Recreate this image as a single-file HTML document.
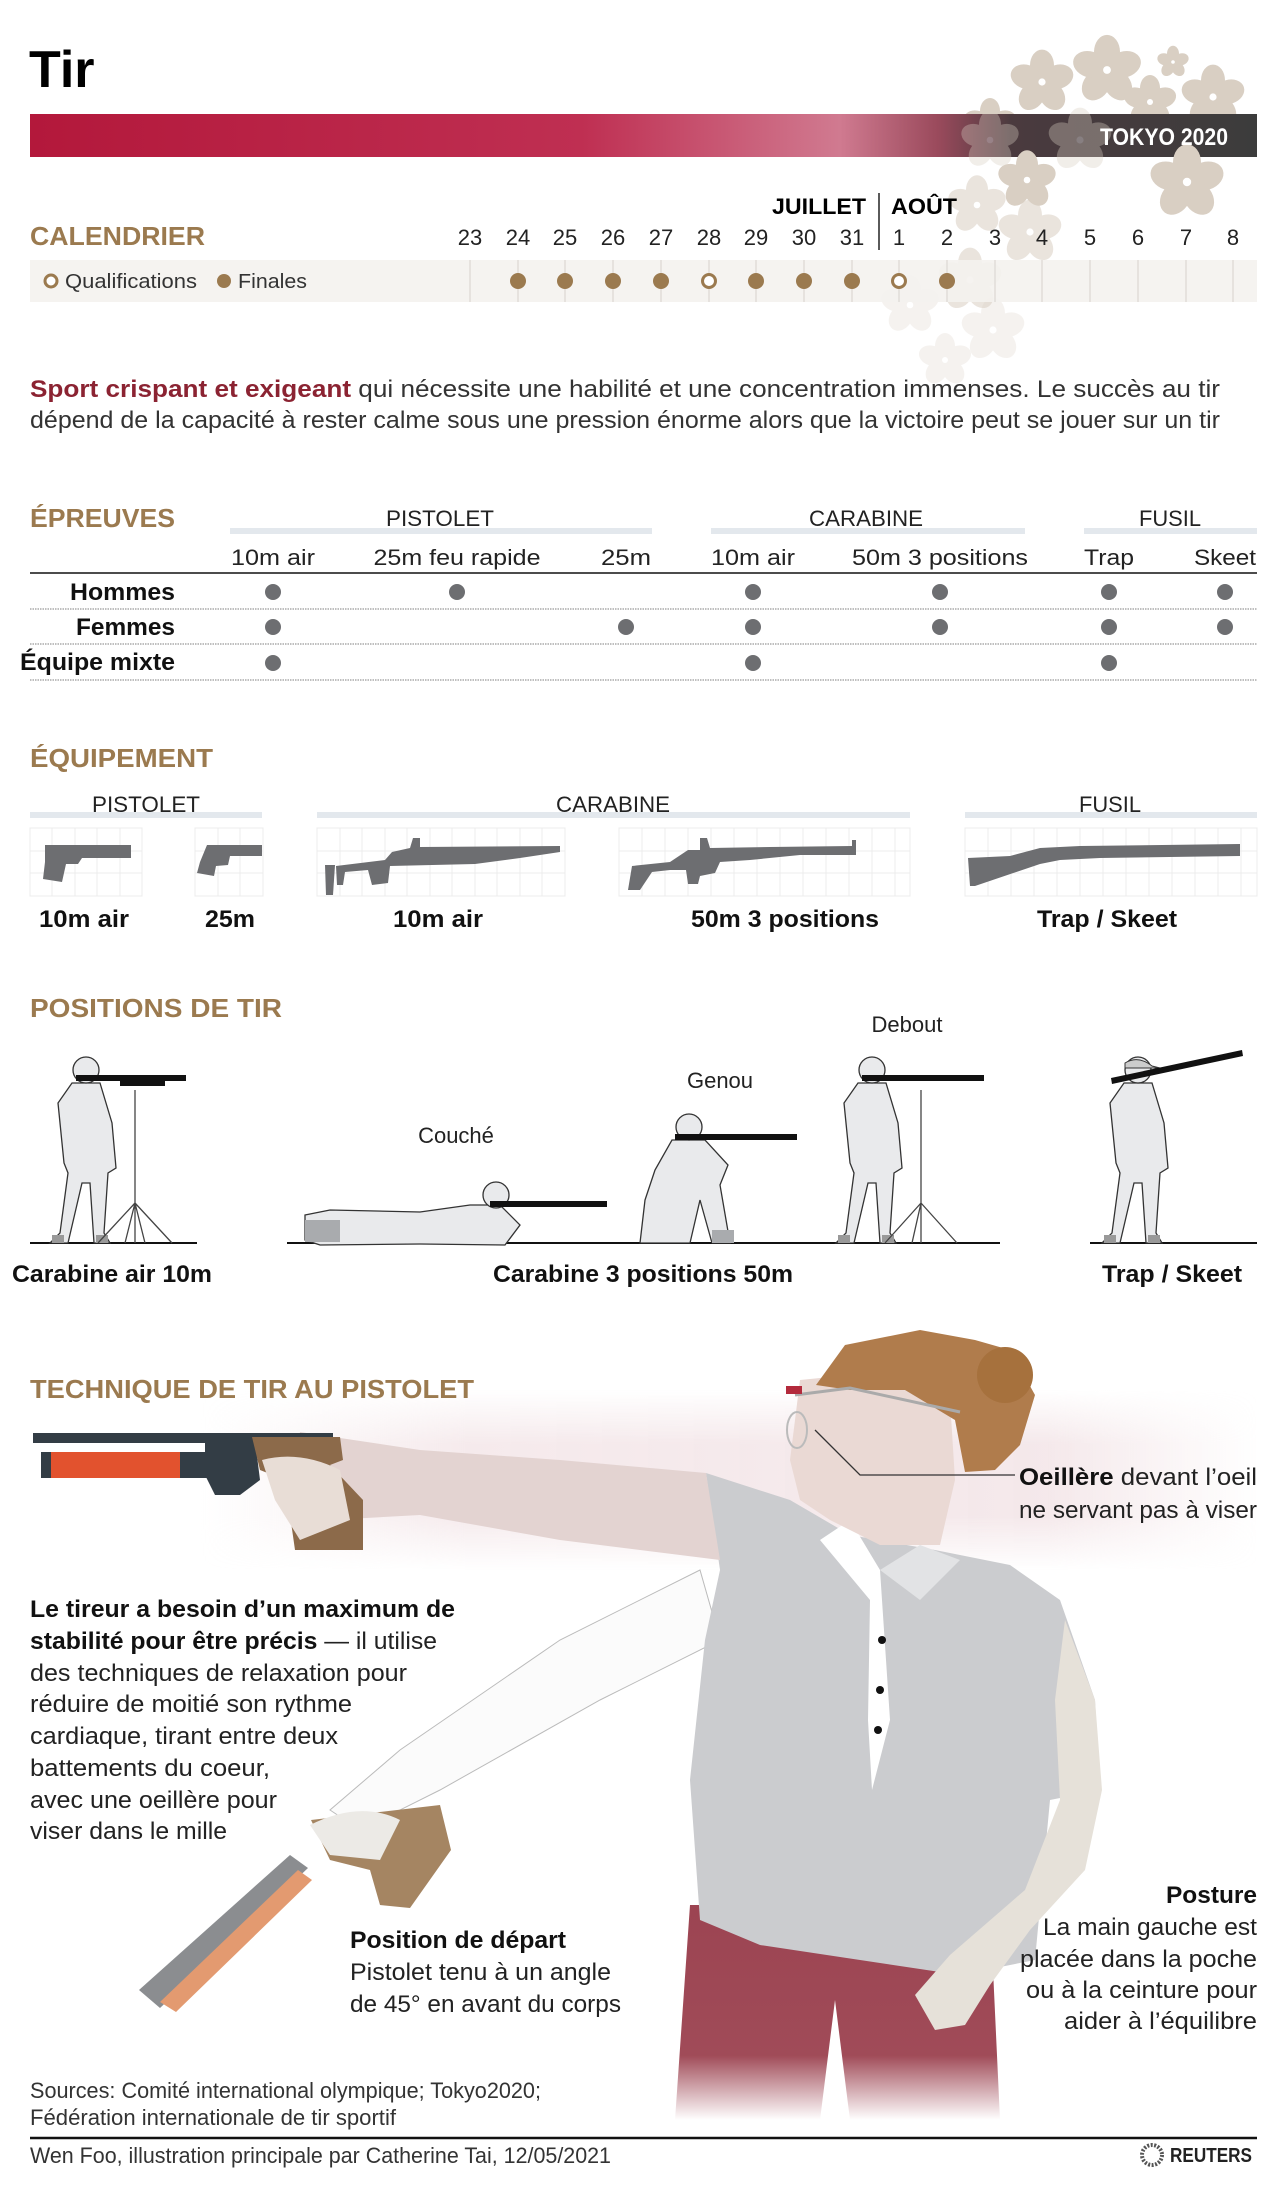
<!DOCTYPE html>
<html><head><meta charset="utf-8">
<style>
html,body{margin:0;padding:0;background:#fff;}
svg{display:block;}
text{font-family:"Liberation Sans",sans-serif;}
.b{font-weight:bold;}
.br{fill:#9b7a4f;font-weight:bold;}
</style></head>
<body>
<svg width="1280" height="2194" viewBox="0 0 1280 2194" xmlns="http://www.w3.org/2000/svg">
<defs>
  <linearGradient id="band" x1="0" x2="1" y1="0" y2="0">
    <stop offset="0" stop-color="#b3183b"/>
    <stop offset="0.45" stop-color="#bf2f52"/>
    <stop offset="0.66" stop-color="#d07a90"/>
    <stop offset="0.74" stop-color="#9a4a5c"/>
    <stop offset="0.8" stop-color="#4a3a3e"/>
    <stop offset="1" stop-color="#3c3c3c"/>
  </linearGradient>
  <g id="fl">
    <ellipse cx="0" cy="-14" rx="10" ry="13"/>
    <ellipse cx="0" cy="-14" rx="10" ry="13" transform="rotate(72)"/>
    <ellipse cx="0" cy="-14" rx="10" ry="13" transform="rotate(144)"/>
    <ellipse cx="0" cy="-14" rx="10" ry="13" transform="rotate(216)"/>
    <ellipse cx="0" cy="-14" rx="10" ry="13" transform="rotate(288)"/>
    <circle cx="0" cy="0" r="3" fill="#fff"/>
  </g>
  <linearGradient id="haze" x1="0" x2="1">
    <stop offset="0" stop-color="#ecd6da" stop-opacity="0"/>
    <stop offset="0.25" stop-color="#ecd6da" stop-opacity="0.5"/>
    <stop offset="0.8" stop-color="#ecd6da" stop-opacity="0.55"/>
    <stop offset="1" stop-color="#ecd6da" stop-opacity="0"/>
  </linearGradient>
  <linearGradient id="hazev" x1="0" x2="0" y1="0" y2="1">
    <stop offset="0" stop-color="#fff" stop-opacity="0"/>
    <stop offset="0.3" stop-color="#fff" stop-opacity="1"/>
    <stop offset="0.7" stop-color="#fff" stop-opacity="1"/>
    <stop offset="1" stop-color="#fff" stop-opacity="0"/>
  </linearGradient>
  <mask id="hm"><rect x="0" y="1390" width="1280" height="180" fill="url(#hazev)"/></mask>
  <linearGradient id="pants" x1="0" x2="0" y1="0" y2="1">
    <stop offset="0" stop-color="#9c4452"/>
    <stop offset="0.7" stop-color="#a04b58"/>
    <stop offset="1" stop-color="#fff"/>
  </linearGradient>
  <g id="stand">
    <path d="M-14,-160 L14,-160 L26,-120 L30,-75 L22,-70 L18,-10 L24,0 L8,0 L4,-60 L-4,-60 L-18,0 L-36,0 L-26,-10 L-18,-70 L-22,-80 L-28,-140 Z" fill="#e9eaec" stroke="#333" stroke-width="1.3"/>
    <circle cx="0" cy="-173" r="13" fill="#e9eaec" stroke="#333" stroke-width="1.3"/>
    <rect x="-34" y="-8" width="12" height="8" fill="#999"/><rect x="10" y="-8" width="12" height="8" fill="#999"/>
  </g>
</defs>

<!-- sakura -->
<g fill="#d9cfc3">
  <use href="#fl" transform="translate(1107,70) scale(1.3)"/>
  <use href="#fl" transform="translate(1042,82) scale(1.2)"/>
  <use href="#fl" transform="translate(1213,97) scale(1.2)"/>
  <use href="#fl" transform="translate(1150,102) scale(1.0)"/>
  <use href="#fl" transform="translate(1173,62) scale(0.6)"/>
  <use href="#fl" transform="translate(990,125) scale(1.0)"/>
</g>
<!-- title -->
<text x="29" y="87" font-size="52" class="b" fill="#000">Tir</text>
<rect x="30" y="114" width="1227" height="43" fill="url(#band)"/>
<g fill="#d9cfc3" opacity="0.35">
  <use href="#fl" transform="translate(1080,140) scale(1.2)"/>
  <use href="#fl" transform="translate(990,140) scale(1.1)"/>
</g>
<g fill="#d9cfc3">
  <use href="#fl" transform="translate(1187,182) scale(1.4)"/>
  <use href="#fl" transform="translate(1027,180) scale(1.1)"/>
</g>
<g fill="#d9cfc3" opacity="0.55">
  <use href="#fl" transform="translate(977,205) scale(1.1)"/>
  <use href="#fl" transform="translate(1030,232) scale(1.2)"/>
  <use href="#fl" transform="translate(970,280) scale(1.2)"/>
</g>
<g fill="#d9cfc3" opacity="0.25">
  <use href="#fl" transform="translate(993,330) scale(1.2)"/>
  <use href="#fl" transform="translate(910,305) scale(1.1)"/>
  <use href="#fl" transform="translate(945,360) scale(1)"/>
</g>
<text x="1228" y="145" font-size="24" class="b" fill="#fff" text-anchor="end" textLength="128" lengthAdjust="spacingAndGlyphs">TOKYO 2020</text>

<!-- calendar -->
<text x="866" y="214" font-size="22" class="b" text-anchor="end" textLength="94" lengthAdjust="spacingAndGlyphs">JUILLET</text>
<line x1="879" y1="193" x2="879" y2="250" stroke="#222" stroke-width="1.5"/>
<text x="891" y="214" font-size="22" class="b" textLength="66" lengthAdjust="spacingAndGlyphs">AOÛT</text>
<text x="30" y="245" font-size="26" class="br" textLength="175" lengthAdjust="spacingAndGlyphs">CALENDRIER</text>
<rect x="30" y="260" width="1227" height="42" fill="#f4f2ee" opacity="0.9"/>
<g font-size="22" text-anchor="middle" fill="#222">
  <text x="470" y="245">23</text><text x="518" y="245">24</text><text x="565" y="245">25</text><text x="613" y="245">26</text><text x="661" y="245">27</text><text x="709" y="245">28</text><text x="756" y="245">29</text><text x="804" y="245">30</text><text x="852" y="245">31</text><text x="899" y="245">1</text><text x="947" y="245">2</text><text x="995" y="245">3</text><text x="1042" y="245">4</text><text x="1090" y="245">5</text><text x="1138" y="245">6</text><text x="1186" y="245">7</text><text x="1233" y="245">8</text>
</g>
<g stroke="#e0ddd8" stroke-width="1.5">
  <line x1="470" y1="260" x2="470" y2="302"/><line x1="518" y1="260" x2="518" y2="302"/><line x1="565" y1="260" x2="565" y2="302"/><line x1="613" y1="260" x2="613" y2="302"/><line x1="661" y1="260" x2="661" y2="302"/><line x1="709" y1="260" x2="709" y2="302"/><line x1="756" y1="260" x2="756" y2="302"/><line x1="804" y1="260" x2="804" y2="302"/><line x1="852" y1="260" x2="852" y2="302"/><line x1="899" y1="260" x2="899" y2="302"/><line x1="947" y1="260" x2="947" y2="302"/><line x1="995" y1="260" x2="995" y2="302"/><line x1="1042" y1="260" x2="1042" y2="302"/><line x1="1090" y1="260" x2="1090" y2="302"/><line x1="1138" y1="260" x2="1138" y2="302"/><line x1="1186" y1="260" x2="1186" y2="302"/><line x1="1233" y1="260" x2="1233" y2="302"/>
</g>
<g fill="#9b7a4f">
  <circle cx="518" cy="281" r="8"/><circle cx="565" cy="281" r="8"/><circle cx="613" cy="281" r="8"/><circle cx="661" cy="281" r="8"/><circle cx="756" cy="281" r="8"/><circle cx="804" cy="281" r="8"/><circle cx="852" cy="281" r="8"/><circle cx="947" cy="281" r="8"/><circle cx="224" cy="281" r="7"/>
</g>
<g fill="#fff" stroke="#9b7a4f" stroke-width="3">
  <circle cx="709" cy="281" r="6.5"/><circle cx="899" cy="281" r="6.5"/><circle cx="51" cy="281" r="6"/>
</g>
<text x="65" y="288" font-size="20" fill="#333" textLength="132" lengthAdjust="spacingAndGlyphs">Qualifications</text>
<text x="238" y="288" font-size="20" fill="#333" textLength="69" lengthAdjust="spacingAndGlyphs">Finales</text>

<!-- intro -->
<text x="30" y="397" font-size="24" fill="#333" textLength="1190" lengthAdjust="spacingAndGlyphs"><tspan class="b" fill="#8b2332">Sport crispant et exigeant</tspan> qui nécessite une habilité et une concentration immenses. Le succès au tir</text>
<text x="30" y="428" font-size="24" fill="#333" textLength="1190" lengthAdjust="spacingAndGlyphs">dépend de la capacité à rester calme sous une pression énorme alors que la victoire peut se jouer sur un tir</text>

<!-- epreuves -->
<text x="30" y="527" font-size="26" class="br" textLength="145" lengthAdjust="spacingAndGlyphs">ÉPREUVES</text>
<rect x="230" y="528" width="422" height="6" fill="#e3e8ed"/>
<rect x="711" y="528" width="314" height="6" fill="#e3e8ed"/>
<rect x="1084" y="528" width="173" height="6" fill="#e3e8ed"/>
<g font-size="22" fill="#222" text-anchor="middle">
  <text x="440" y="526" textLength="108" lengthAdjust="spacingAndGlyphs">PISTOLET</text>
  <text x="866" y="526" textLength="114" lengthAdjust="spacingAndGlyphs">CARABINE</text>
  <text x="1170" y="526" textLength="62" lengthAdjust="spacingAndGlyphs">FUSIL</text>
  <text x="273" y="565" textLength="84" lengthAdjust="spacingAndGlyphs">10m air</text>
  <text x="457" y="565" textLength="167" lengthAdjust="spacingAndGlyphs">25m feu rapide</text>
  <text x="626" y="565" textLength="50" lengthAdjust="spacingAndGlyphs">25m</text>
  <text x="753" y="565" textLength="84" lengthAdjust="spacingAndGlyphs">10m air</text>
  <text x="940" y="565" textLength="176" lengthAdjust="spacingAndGlyphs">50m 3 positions</text>
  <text x="1109" y="565" textLength="50" lengthAdjust="spacingAndGlyphs">Trap</text>
  <text x="1225" y="565" textLength="62" lengthAdjust="spacingAndGlyphs">Skeet</text>
</g>
<line x1="30" y1="573" x2="1257" y2="573" stroke="#111" stroke-width="1.5"/>
<g stroke="#999" stroke-width="1.2" stroke-dasharray="1.5,1">
  <line x1="30" y1="609" x2="1257" y2="609"/><line x1="30" y1="644" x2="1257" y2="644"/><line x1="30" y1="680" x2="1257" y2="680"/>
</g>
<g font-size="24" class="b" text-anchor="end" fill="#111">
  <text x="175" y="600" textLength="105" lengthAdjust="spacingAndGlyphs">Hommes</text>
  <text x="175" y="635" textLength="99" lengthAdjust="spacingAndGlyphs">Femmes</text>
  <text x="175" y="670" textLength="155" lengthAdjust="spacingAndGlyphs">Équipe mixte</text>
</g>
<g fill="#6d6e71">
  <circle cx="273" cy="592" r="8"/><circle cx="457" cy="592" r="8"/><circle cx="753" cy="592" r="8"/><circle cx="940" cy="592" r="8"/><circle cx="1109" cy="592" r="8"/><circle cx="1225" cy="592" r="8"/>
  <circle cx="273" cy="627" r="8"/><circle cx="626" cy="627" r="8"/><circle cx="753" cy="627" r="8"/><circle cx="940" cy="627" r="8"/><circle cx="1109" cy="627" r="8"/><circle cx="1225" cy="627" r="8"/>
  <circle cx="273" cy="663" r="8"/><circle cx="753" cy="663" r="8"/><circle cx="1109" cy="663" r="8"/>
</g>

<!-- equipement -->
<text x="30" y="767" font-size="26" class="br" textLength="183" lengthAdjust="spacingAndGlyphs">ÉQUIPEMENT</text>
<rect x="30" y="812" width="232" height="6" fill="#e3e8ed"/>
<rect x="317" y="812" width="593" height="6" fill="#e3e8ed"/>
<rect x="965" y="812" width="292" height="6" fill="#e3e8ed"/>
<g font-size="22" fill="#222" text-anchor="middle">
  <text x="146" y="812" textLength="108" lengthAdjust="spacingAndGlyphs">PISTOLET</text>
  <text x="613" y="812" textLength="114" lengthAdjust="spacingAndGlyphs">CARABINE</text>
  <text x="1110" y="812" textLength="62" lengthAdjust="spacingAndGlyphs">FUSIL</text>
</g>
<g fill="#fff" stroke="#ececec" stroke-width="1">
  <rect x="30" y="828" width="112" height="68"/><rect x="195" y="828" width="68" height="68"/><rect x="317" y="828" width="248" height="68"/><rect x="619" y="828" width="291" height="68"/><rect x="965" y="828" width="292" height="68"/>
</g>
<g stroke="#ececec" stroke-width="1">
  <path d="M30,851H142M30,873H142M52,828V896M75,828V896M97,828V896M120,828V896"/>
  <path d="M195,851H263M195,873H263M218,828V896M240,828V896"/>
  <path d="M317,851H565M317,873H565M340,828V896M362,828V896M385,828V896M407,828V896M430,828V896M452,828V896M475,828V896M497,828V896M520,828V896M542,828V896"/>
  <path d="M619,851H910M619,873H910M642,828V896M665,828V896M688,828V896M711,828V896M734,828V896M757,828V896M780,828V896M803,828V896M826,828V896M849,828V896M872,828V896M895,828V896"/>
  <path d="M965,851H1257M965,873H1257M988,828V896M1011,828V896M1034,828V896M1057,828V896M1080,828V896M1103,828V896M1126,828V896M1149,828V896M1172,828V896M1195,828V896M1218,828V896M1241,828V896"/>
</g>
<g fill="#6d6e71">
  <path d="M45,845 L131,845 L131,858 L82,858 L78,864 L66,864 L62,882 L43,879 L45,862 Z"/>
  <path d="M207,845 L262,845 L262,856 L230,856 L228,865 L216,866 L214,876 L197,873 L200,862 Z"/>
  <path d="M336,866 L385,860 L392,852 L410,848 L413,838 L420,838 L420,847 L560,846 L560,852 L520,858 L475,864 L390,866 L388,883 L372,885 L368,870 L345,872 L343,885 L337,885 Z"/>
  <path d="M325,865 L335,865 L333,895 L326,895 Z"/>
  <path d="M632,866 L670,862 L688,850 L700,850 L700,838 L707,838 L710,848 L770,847 L852,846 L852,840 L856,840 L856,855 L800,855 L750,860 L720,862 L715,873 L700,876 L698,884 L688,884 L686,870 L670,870 L652,872 L640,890 L628,890 Z"/>
  <path d="M968,858 L1010,856 L1040,848 L1080,846 L1240,844 L1240,856 L1100,858 L1060,860 L1040,864 L975,886 L970,886 Z"/>
</g>
<g font-size="24" class="b" text-anchor="middle" fill="#111">
  <text x="84" y="927" textLength="90" lengthAdjust="spacingAndGlyphs">10m air</text>
  <text x="230" y="927" textLength="50" lengthAdjust="spacingAndGlyphs">25m</text>
  <text x="438" y="927" textLength="90" lengthAdjust="spacingAndGlyphs">10m air</text>
  <text x="785" y="927" textLength="188" lengthAdjust="spacingAndGlyphs">50m 3 positions</text>
  <text x="1107" y="927" textLength="140" lengthAdjust="spacingAndGlyphs">Trap / Skeet</text>
</g>

<!-- positions -->
<text x="30" y="1017" font-size="26" class="br" textLength="252" lengthAdjust="spacingAndGlyphs">POSITIONS DE TIR</text>
<g font-size="22" fill="#222" text-anchor="middle">
  <text x="907" y="1032">Debout</text>
  <text x="720" y="1088">Genou</text>
  <text x="456" y="1143">Couché</text>
</g>
<g stroke="#111" stroke-width="2">
  <line x1="30" y1="1243" x2="197" y2="1243"/><line x1="287" y1="1243" x2="1000" y2="1243"/><line x1="1090" y1="1243" x2="1257" y2="1243"/>
</g>
<use href="#stand" transform="translate(86,1243)"/>
<g stroke="#444" stroke-width="1.3" fill="none"><path d="M135,1090V1243M135,1203L98,1243M135,1203L172,1243M135,1203L125,1243M135,1203L145,1243"/></g>
<rect x="76" y="1075" width="110" height="6" fill="#111"/><rect x="120" y="1081" width="45" height="5" fill="#111"/>
<path d="M305,1215 L330,1210 L420,1212 L470,1205 L500,1205 L520,1225 L505,1245 L420,1244 L320,1245 L305,1240 Z" fill="#e9eaec" stroke="#333" stroke-width="1.3"/>
<rect x="305" y="1220" width="35" height="22" fill="#a9abae"/>
<circle cx="496" cy="1195" r="13" fill="#e9eaec" stroke="#333" stroke-width="1.3"/>
<rect x="490" y="1201" width="117" height="6" fill="#111"/>
<path d="M672,1140 L705,1140 L728,1165 L720,1185 L730,1243 L712,1243 L700,1200 L690,1243 L640,1243 L645,1200 L655,1170 Z" fill="#e9eaec" stroke="#333" stroke-width="1.3"/>
<rect x="712" y="1230" width="22" height="13" fill="#a9abae"/>
<circle cx="689" cy="1127" r="13" fill="#e9eaec" stroke="#333" stroke-width="1.3"/>
<rect x="675" y="1134" width="122" height="6" fill="#111"/>
<use href="#stand" transform="translate(872,1243)"/>
<g stroke="#444" stroke-width="1.3" fill="none"><path d="M921,1090V1243M921,1203L885,1243M921,1203L957,1243M921,1203L912,1243"/></g>
<rect x="862" y="1075" width="122" height="6" fill="#111"/>
<use href="#stand" transform="translate(1138,1243)"/>
<path d="M1125,1063 Q1138,1055 1152,1066 L1160,1068 L1125,1068 Z" fill="#ccc" stroke="#333"/>
<path d="M1111,1078 L1242,1050 L1243,1056 L1112,1084 Z" fill="#111"/>

<g font-size="24" class="b" fill="#111">
  <text x="12" y="1282" textLength="200" lengthAdjust="spacingAndGlyphs">Carabine air 10m</text>
  <text x="643" y="1282" text-anchor="middle" textLength="300" lengthAdjust="spacingAndGlyphs">Carabine 3 positions 50m</text>
  <text x="1172" y="1282" text-anchor="middle" textLength="140" lengthAdjust="spacingAndGlyphs">Trap / Skeet</text>
</g>

<!-- technique -->
<rect x="200" y="1390" width="1060" height="180" fill="url(#haze)" mask="url(#hm)"/>
<path d="M700,1570 L560,1640 L400,1750 L330,1810 L360,1830 L440,1790 L600,1700 L720,1640 Z" fill="#fbfbfb" stroke="#bbb" stroke-width="1"/>
<path d="M690,1905 L990,1905 L1000,2120 L850,2120 L835,2000 L820,2120 L675,2120 Z" fill="url(#pants)"/>
<path d="M706,1473 L790,1500 L850,1535 L935,1550 L1010,1565 L1060,1600 L1095,1700 L1100,1790 L1050,1800 L1035,1960 L960,1975 L860,1960 L760,1945 L700,1920 L690,1780 L705,1640 L720,1570 Z" fill="#cbcccf"/>
<path d="M820,1540 L850,1520 L880,1570 L890,1720 L872,1790 L868,1720 L870,1600 Z" fill="#fff"/>
<path d="M880,1570 L920,1545 L960,1560 L920,1600 Z" fill="#e2e3e5"/>
<circle cx="882" cy="1640" r="4" fill="#111"/><circle cx="880" cy="1690" r="4" fill="#111"/><circle cx="878" cy="1730" r="4" fill="#111"/>
<path d="M1065,1620 L1095,1700 L1102,1790 L1085,1870 L1030,1930 L990,1985 L965,2025 L935,2030 L915,1995 L950,1955 L1025,1890 L1060,1800 L1055,1700 Z" fill="#e6e1d9"/>
<path d="M300,1432 L420,1450 L560,1460 L706,1473 L720,1560 L560,1540 L420,1515 L330,1520 L290,1490 Z" fill="#e3d3d1"/>
<path d="M800,1380 L900,1370 L950,1400 L955,1480 L940,1545 L880,1545 L830,1520 L800,1500 L790,1460 Z" fill="#ead9d4"/>
<path d="M816,1385 L845,1345 L920,1330 L975,1340 L1010,1350 L1035,1395 L1020,1445 L995,1470 L965,1472 L955,1420 L905,1390 L850,1390 Z" fill="#b07c4c"/>
<circle cx="1005" cy="1375" r="28" fill="#a6713d"/>
<path d="M795,1395 L850,1388 L960,1412" stroke="#aaa" stroke-width="3" fill="none"/>
<rect x="786" y="1386" width="16" height="8" fill="#b32a3c"/>
<ellipse cx="797" cy="1430" rx="10" ry="18" fill="none" stroke="#bbb" stroke-width="2"/>
<polyline points="815,1430 860,1475 1015,1475" fill="none" stroke="#333" stroke-width="1.3"/>
<rect x="33" y="1433" width="300" height="10" fill="#333d45"/>
<rect x="41" y="1452" width="145" height="26" fill="#e2522e"/>
<rect x="41" y="1452" width="10" height="26" fill="#333d45"/><rect x="180" y="1452" width="30" height="26" fill="#333d45"/>
<path d="M205,1440 L255,1440 L260,1480 L240,1495 L215,1495 L205,1475 Z" fill="#333d45"/>
<path d="M252,1437 L340,1437 L343,1460 L330,1465 L363,1500 L363,1550 L295,1550 L285,1480 L260,1470 Z" fill="#8c6a4a"/>
<path d="M262,1460 Q300,1450 340,1470 L350,1520 L300,1540 L275,1500 Z" fill="#e8ddd6"/>
<path d="M139,1990 L290,1855 L308,1868 L160,2008 Z" fill="#8b8d90"/>
<path d="M160,2002 L298,1870 L312,1880 L176,2012 Z" fill="#e39a70"/>
<path d="M311,1820 L440,1805 L451,1850 L410,1908 L380,1905 L370,1870 L330,1860 Z" fill="#a58562"/>
<path d="M310,1825 Q360,1800 400,1820 L380,1860 L330,1855 Z" fill="#eceae6"/>

<g font-size="24" fill="#222">
  <text x="30" y="1398" font-size="26" class="br" textLength="444" lengthAdjust="spacingAndGlyphs">TECHNIQUE DE TIR AU PISTOLET</text>
  <text x="1019" y="1485" textLength="238" lengthAdjust="spacingAndGlyphs"><tspan class="b" fill="#111">Oeillère</tspan> devant l’oeil</text>
  <text x="1019" y="1518" textLength="238" lengthAdjust="spacingAndGlyphs">ne servant pas à viser</text>
  <text x="30" y="1617" class="b" fill="#111" textLength="425" lengthAdjust="spacingAndGlyphs">Le tireur a besoin d’un maximum de</text>
  <text x="30" y="1649" textLength="407" lengthAdjust="spacingAndGlyphs"><tspan class="b" fill="#111">stabilité pour être précis</tspan> — il utilise</text>
  <text x="30" y="1681" textLength="377" lengthAdjust="spacingAndGlyphs">des techniques de relaxation pour</text>
  <text x="30" y="1712" textLength="322" lengthAdjust="spacingAndGlyphs">réduire de moitié son rythme</text>
  <text x="30" y="1744" textLength="308" lengthAdjust="spacingAndGlyphs">cardiaque, tirant entre deux</text>
  <text x="30" y="1776" textLength="240" lengthAdjust="spacingAndGlyphs">battements du coeur,</text>
  <text x="30" y="1808" textLength="247" lengthAdjust="spacingAndGlyphs">avec une oeillère pour</text>
  <text x="30" y="1839" textLength="197" lengthAdjust="spacingAndGlyphs">viser dans le mille</text>
  <text x="350" y="1948" class="b" fill="#111" textLength="216" lengthAdjust="spacingAndGlyphs">Position de départ</text>
  <text x="350" y="1980" textLength="261" lengthAdjust="spacingAndGlyphs">Pistolet tenu à un angle</text>
  <text x="350" y="2012" textLength="271" lengthAdjust="spacingAndGlyphs">de 45° en avant du corps</text>
  <text x="1257" y="1903" class="b" fill="#111" text-anchor="end" textLength="91" lengthAdjust="spacingAndGlyphs">Posture</text>
  <text x="1257" y="1935" text-anchor="end" textLength="214" lengthAdjust="spacingAndGlyphs">La main gauche est</text>
  <text x="1257" y="1967" text-anchor="end" textLength="237" lengthAdjust="spacingAndGlyphs">placée dans la poche</text>
  <text x="1257" y="1998" text-anchor="end" textLength="231" lengthAdjust="spacingAndGlyphs">ou à la ceinture pour</text>
  <text x="1257" y="2029" text-anchor="end" textLength="193" lengthAdjust="spacingAndGlyphs">aider à l’équilibre</text>
</g>
<g font-size="22" fill="#333">
  <text x="30" y="2098" textLength="511" lengthAdjust="spacingAndGlyphs">Sources: Comité international olympique; Tokyo2020;</text>
  <text x="30" y="2125" textLength="366" lengthAdjust="spacingAndGlyphs">Fédération internationale de tir sportif</text>
</g>
<line x1="30" y1="2138" x2="1257" y2="2138" stroke="#111" stroke-width="2.5"/>
<text x="30" y="2163" font-size="22" fill="#333" textLength="581" lengthAdjust="spacingAndGlyphs">Wen Foo, illustration principale par Catherine Tai, 12/05/2021</text>
<circle cx="1152" cy="2155" r="10" fill="none" stroke="#555" stroke-width="4" stroke-dasharray="2,1.5"/>
<text x="1252" y="2162" font-size="20" class="b" fill="#222" text-anchor="end" textLength="82" lengthAdjust="spacingAndGlyphs">REUTERS</text>
</svg>
</body></html>
